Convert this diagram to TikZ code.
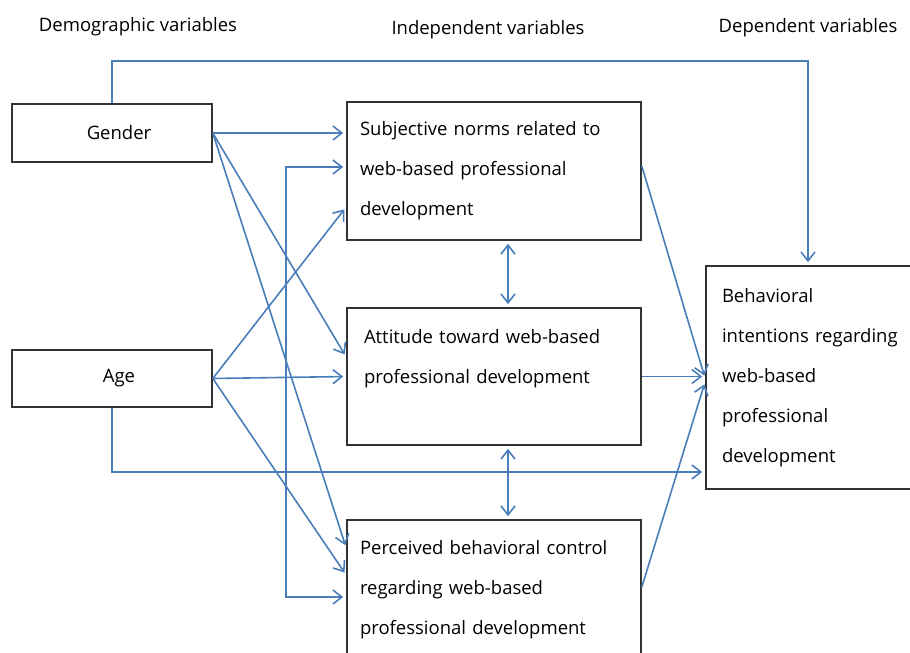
\documentclass[tikz,border=0pt]{standalone}
\usepackage{fontspec}
\setmainfont{Open Sans}
\usetikzlibrary{arrows.meta,positioning}
\definecolor{linkblue}{HTML}{4A7EBB}
\tikzset{
  >={Straight Barb[length=9pt,width=14pt]},
  box/.style={draw=black!80, line width=1.6pt, align=left, inner xsep=13pt, font=\fontsize{18.5}{40}\selectfont},
  link/.style={draw=linkblue, line width=1.6pt, ->, shorten >=3pt},
  heading/.style={font=\fontsize{18.5}{22}\selectfont}
}
\begin{document}
\begin{tikzpicture}[x=1pt,y=-1pt]
        \useasboundingbox (0,0) rectangle (910,653);

        % Column headings
        \node[heading] (hdemo) at (138,27) {Demographic variables};
        \node[heading] (hindep) at (488,30) {Independent variables};
        \node[heading] (hdep) at (808,28) {Dependent variables};

        % Demographic variables
        \node[box, align=center, minimum width=200pt, minimum height=58pt] (gender) at (112,133) {\hspace*{14pt}Gender};
        \node[box, align=center, minimum width=200pt, minimum height=57pt] (age) at (112,378.5) {\hspace*{14pt}Age};

        % Independent variables
        \node[box, text width=268pt, minimum height=138pt] (subj) at (494,171) {Subjective norms related to\\web-based professional\\development};
        \node[box, text width=268pt, minimum height=137pt] (att) at (494,376.5) {\hspace*{4pt}Attitude toward web-based\\\hspace*{4pt}professional development\\\mbox{}};
        \node[box, text width=268pt, minimum height=140pt] (perc) at (494,590) {Perceived behavioral control\\regarding web-based\\professional development};

        % Dependent variable
        \node[box, inner xsep=16pt, text width=188pt, minimum height=223pt] (beh) at (816,377.5) {Behavioral\\intentions regarding\\web-based\\professional\\development};

        % Gender links
        \draw[link] (gender.north) -- ++(0,-42) -| ([xshift=-8pt]beh.north);
        \draw[link] (gender.east) -- (gender.east -| subj.west);
        \draw[link] (gender.east) -- ([yshift=19.5pt]att.west);
        \draw[link] (gender.east) -- ([yshift=42pt]perc.west);

        % Age links
        \draw[link] (age.east) -- ([yshift=-36pt]subj.west);
        \draw[link] (age.east) -- (att.west);
        \draw[link] (age.east) -- ([yshift=15pt]perc.west);
        \draw[link] (age.south) |- ([yshift=-94.5pt]beh.west);

        % Bracket between norms and control
        \draw[link, <->, shorten <=3pt] ([yshift=4pt]subj.west) -- ++(-60,0) |- ([yshift=-7pt]perc.west);

        % Correlations
        \draw[link, <->, shorten <=3pt] ([xshift=14pt]subj.south) -- ([xshift=14pt]att.north);
        \draw[link, <->, shorten <=3pt] ([xshift=14pt]att.south) -- ([xshift=14pt]perc.north);

        % Independent to dependent
        \draw[link] ([yshift=5pt]subj.east) -- ([yshift=-1pt]beh.west);
        \draw[link] (att.east) -- ([yshift=1pt]beh.west);
        \draw[link] ([yshift=3pt]perc.east) -- ([yshift=-4pt]beh.west);
\end{tikzpicture}
\end{document}
